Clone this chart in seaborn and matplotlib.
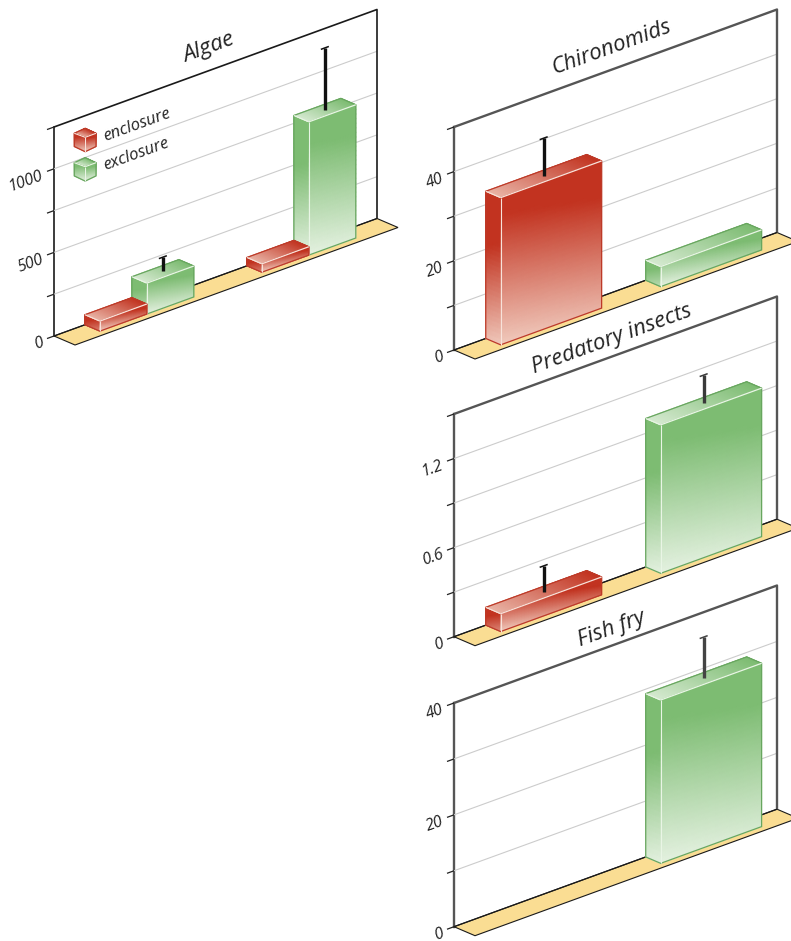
"""
Enclosure vs exclosure: oblique bar panels
"""

import matplotlib
matplotlib.use("Agg")
import matplotlib.pyplot as plt
import numpy as np
import pandas as pd
import seaborn as sns
from matplotlib.colors import LinearSegmentedColormap, to_hex
from matplotlib.patches import Polygon, Rectangle
from matplotlib.transforms import Affine2D, IdentityTransform

# --- data ---
TREATMENTS = ["enclosure", "exclosure"]
SLOTS = ["first", "second"]

ALGAE_MEAN = {"enclosure": [60, 50], "exclosure": [185, 797]}
ALGAE_ERR = {"enclosure": [0, 0], "exclosure": [85, 372]}
ALGAE_TICKS = [0, 500, 1000]
ALGAE_LABELS = ["0", "500", "1000"]
ALGAE_GRID = [250, 500, 750, 1000]

CHIRO_MEAN = {"enclosure": [33, np.nan], "exclosure": [np.nan, 4.5]}
CHIRO_ERR = {"enclosure": [8.5, 0], "exclosure": [0, 0]}
CHIRO_TICKS = [0, 20, 40]
CHIRO_LABELS = ["0", "20", "40"]
CHIRO_GRID = [10, 20, 30, 40]

PRED_MEAN = {"enclosure": [0.12, np.nan], "exclosure": [np.nan, 1.0]}
PRED_ERR = {"enclosure": [0.177, 0], "exclosure": [0, 0.19]}
PRED_TICKS = [0, 0.6, 1.2]
PRED_LABELS = ["0", "0.6", "1.2"]
PRED_GRID = [0.3, 0.6, 0.9, 1.2]

FRY_MEAN = {"enclosure": [np.nan, np.nan], "exclosure": [np.nan, 29.2]}
FRY_ERR = {"enclosure": [0, 0], "exclosure": [0, 7.4]}
FRY_TICKS = [0, 20, 40]
FRY_LABELS = ["0", "20", "40"]
FRY_GRID = [10, 20, 30]

# --- look ---
W, H = 791, 941
SLOPE = 0.3638
FLOOR = (21.0, 9.0)
BAR_DEPTH = 0.71
FONT = ["Open Sans", "DejaVu Sans"]

PALETTE = {"enclosure": "#c23320", "exclosure": "#7dbc72"}
CMAPS = {
    "enclosure": LinearSegmentedColormap.from_list("r", ["#c23320", "#f0c9bc"]),
    "exclosure": LinearSegmentedColormap.from_list("g", ["#7dbc72", "#e4f1e0"]),
}
EDGE = {"enclosure": "#bd3a28", "exclosure": "#68a65f"}
SHINE = {"enclosure": "#f8e2da", "exclosure": "#e9f5e5"}

sns.set_theme(style="white")
plt.rcParams["font.family"] = FONT

fig = plt.figure(figsize=(W / 100, H / 100), dpi=100)
PIXELS = IdentityTransform()


def px(x, y):
    return x, H - y


def make_proj(ax, left, bottom):
    """data x, y plus depth d -> display pixels on the sheared wall"""
    x0, y0 = px(left, bottom)

    def proj(x, y, d=0.0):
        p = ax.transData.transform(np.column_stack([np.ravel(x), np.ravel(y)]))
        dx = p[:, 0] - x0
        return p[:, 0] + d * FLOOR[0], p[:, 1] + dx * SLOPE - d * FLOOR[1]

    return proj


def stroke(ax, pts, color, lw, z, **kw):
    xs = [p[0] for p in pts]
    ys = [p[1] for p in pts]
    ax.plot(np.ravel(xs), np.ravel(ys), color=color, lw=lw, zorder=z,
            transform=PIXELS, clip_on=False, solid_capstyle=kw.pop("cap", "butt"), **kw)


def face(ax, corners, kind, cmap, z):
    """gradient filled quad, corners = upper-left, upper-right, lower-left, lower-right"""
    a, b, c, d = [np.array(p, dtype=float).ravel() for p in corners]
    u, v = np.meshgrid(np.linspace(0, 1, 30), np.linspace(0, 1, 30))
    X = (1 - v) * ((1 - u) * a[0] + u * b[0]) + v * ((1 - u) * c[0] + u * d[0])
    Y = (1 - v) * ((1 - u) * a[1] + u * b[1]) + v * ((1 - u) * c[1] + u * d[1])
    if kind == "top":
        T = 0.85 * (1 - u)
    else:
        g = -Y + 0.15 * X
        g = (g - g.min()) / max(g.max() - g.min(), 1e-6)
        start = 0.22 if kind == "front" else 0.35
        T = np.clip((g - start) / (1 - start), 0, 1)
        if kind == "side":
            # short boxes keep a darker side
            T = T * min(1.0, 0.45 + abs(a[1] - c[1]) / 150)
    ax.pcolormesh(X, Y, T, shading="gouraud", cmap=cmap, vmin=0, vmax=1,
                  transform=PIXELS, zorder=z, clip_on=False)


def draw_box(ax, proj, x0, x1, h, name, z):
    cmap = CMAPS[name]
    d = BAR_DEPTH
    # left side
    face(ax, [proj(x0, h), proj(x0, h, d), proj(x0, 0), proj(x0, 0, d)], "side", cmap, z)
    # top
    face(ax, [proj(x0, h), proj(x1, h), proj(x0, h, d), proj(x1, h, d)], "top", cmap, z)
    # front
    face(ax, [proj(x0, h, d), proj(x1, h, d), proj(x0, 0, d), proj(x1, 0, d)], "front", cmap, z)
    outline = [proj(x0, 0), proj(x0, h), proj(x1, h), proj(x1, h, d), proj(x1, 0, d), proj(x0, 0, d)]
    xy = np.array([[p[0][0], p[1][0]] for p in outline])
    ax.add_patch(Polygon(xy, closed=True, fc="none", ec=EDGE[name], lw=0.9,
                         transform=PIXELS, zorder=z + 0.1, clip_on=False))
    shine = SHINE[name]
    stroke(ax, [proj(x0, h), proj(x0, h, d)], shine, 0.8, z + 0.2)
    stroke(ax, [proj(x0, h, d), proj(x1, h, d)], shine, 0.9, z + 0.2)
    stroke(ax, [proj(x0, h, d), proj(x0, 0, d)], shine, 0.8, z + 0.2)


def panel(left, top, bottom, ymax, title, title_at, means, errs, ticks, labels, grid,
          xlim, width, dodge, wall_color, wall_lw, err_color):
    right = left + 323
    rect = [left / W, 1 - bottom / H, (right - left) / W, (bottom - top) / H]
    ax = fig.add_axes(rect)
    ax.patch.set_visible(False)

    df = pd.DataFrame([
        {"slot": s, "treatment": t, "value": means[t][i]}
        for t in TREATMENTS for i, s in enumerate(SLOTS)
    ]).dropna()
    sns.barplot(data=df, x="slot", y="value", hue="treatment", order=SLOTS,
                hue_order=TREATMENTS, palette=PALETTE, width=width, dodge=dodge,
                gap=0, errorbar=None, saturation=1, legend=False, ax=ax)
    ax.set_xlim(*xlim)
    ax.set_ylim(0, ymax)
    ax.set_autoscale_on(False)
    ax.set_xlabel("")
    ax.set_ylabel("")
    ax.set_xticks([])
    for side in ["top", "right", "bottom"]:
        ax.spines[side].set_visible(False)
    ax.spines["left"].set_color(wall_color)
    ax.spines["left"].set_linewidth(wall_lw)

    ax.set_yticks(ticks)
    ax.set_yticklabels(labels, style="italic", fontsize=11.5, color="#222222",
                       rotation=20, rotation_mode="anchor", ha="right", va="center")
    ax.tick_params(axis="y", length=0, pad=8)
    for lab in ax.get_yticklabels():
        lab.set_transform(lab.get_transform() + Affine2D().translate(0, -6.5))

    # the categorical x axis takes no plain floats, so the oblique faces go on a layer above it
    layer = fig.add_axes(rect, frameon=False)
    layer.set_axis_off()
    layer.set_autoscale_on(False)

    proj = make_proj(ax, left, bottom)
    xl, xr = xlim
    unit = 323 / (xr - xl)

    # floor
    corners = [proj(xl, 0), proj(xr, 0), proj(xr, 0, 1), proj(xl, 0, 1)]
    xy = np.array([[p[0][0], p[1][0]] for p in corners])
    layer.add_patch(Polygon(xy, closed=True, fc="#fadd93", ec="#1a1a1a", lw=0.8,
                            transform=PIXELS, zorder=1, clip_on=False))

    # grid and ticks
    for g in grid:
        stroke(layer, [proj(xl, g), proj(xr, g)], "#cccccc", 0.8, 0.9)
    for g in sorted(set(grid) | {0, ymax}):
        stroke(layer, [proj(xl - 7 / unit, g), proj(xl, g)], "#222222", 0.9, 1.4)

    # wall
    stroke(layer, [proj(xl, ymax), proj(xr, ymax), proj(xr, 0)], wall_color, wall_lw, 1.5)
    stroke(layer, [proj(xl, 0), proj(xr, 0)], "#1a1a1a", 0.9, 1.5)

    # bars from what seaborn laid out, exclosure first so enclosure sits on top
    colour_name = {to_hex(PALETTE[t]): t for t in TREATMENTS}
    bars = [b for b in ax.patches if isinstance(b, Rectangle)
            and np.isfinite(b.get_height()) and b.get_height() > 0]
    bars = sorted(bars, key=lambda b: colour_name[to_hex(b.get_facecolor())], reverse=True)
    for n, b in enumerate(bars):
        b.set_visible(False)
        name = colour_name[to_hex(b.get_facecolor())]
        x0, x1 = b.get_x(), b.get_x() + b.get_width()
        h = b.get_height()
        draw_box(layer, proj, x0, x1, h, name, 2 + n)
        err = errs[name][int(round((x0 + x1) / 2))]
        if err > 0:
            xc = (x0 + x1) / 2
            d = BAR_DEPTH / 2
            c = 4 / unit
            col = err_color.get(name, "#111111")
            stroke(layer, [proj(xc, h, d), proj(xc, h + err, d)], col, 2.4, 8)
            stroke(layer, [proj(xc - c, h + err, d), proj(xc + c, h + err, d)], col, 1.1, 8)

    layer.text(*px(*title_at), title, transform=PIXELS, style="italic", fontsize=16,
               color="#222222", rotation=20, rotation_mode="anchor",
               ha="center", va="center", zorder=9, clip_on=False)
    return layer


def legend_cube(ax, top, name):
    cx, l, r = 85.2, 74.3, 96.0
    cmap = CMAPS[name]
    P = {
        "t": px(cx, top), "ul": px(l, top + 5), "ur": px(r, top + 5), "c": px(cx, top + 9),
        "b": px(cx, top + 23.4), "ll": px(l, top + 18.2), "lr": px(r, top + 18.2),
    }
    face(ax, [P["ul"], P["t"], P["c"], P["ur"]], "top", cmap, 10)
    face(ax, [P["ul"], P["c"], P["ll"], P["b"]], "front", cmap, 10)
    face(ax, [P["c"], P["ur"], P["b"], P["lr"]], "front", cmap, 10)
    ring = np.array([P[k] for k in ["t", "ur", "lr", "b", "ll", "ul"]])
    ax.add_patch(Polygon(ring, closed=True, fc="none", ec=EDGE[name], lw=0.9,
                         transform=PIXELS, zorder=10.1, clip_on=False))
    for k in ["ul", "ur", "b"]:
        stroke(ax, [P["c"], P[k]], SHINE[name], 0.8, 10.2)


BLACK_ERR = {}
algae = panel(54, 127, 336, 1250, "Algae", (209, 48), ALGAE_MEAN, ALGAE_ERR,
              ALGAE_TICKS, ALGAE_LABELS, ALGAE_GRID, (-0.481, 1.513), 0.58, True,
              "#1a1a1a", 1.2, BLACK_ERR)
panel(454, 127, 350, 50, "Chironomids", (612, 47.5), CHIRO_MEAN, CHIRO_ERR,
      CHIRO_TICKS, CHIRO_LABELS, CHIRO_GRID, (-0.514, 1.505), 0.631, False,
      "#555555", 1.7, BLACK_ERR)
panel(454, 414, 636.7, 1.5, "Predatory insects", (612, 339), PRED_MEAN, PRED_ERR,
      PRED_TICKS, PRED_LABELS, PRED_GRID, (-0.514, 1.505), 0.631, False,
      "#555555", 1.7, {"exclosure": "#3a3a3a"})
panel(454, 703, 926.7, 40, "Fish fry", (612, 628.8), FRY_MEAN, FRY_ERR,
      FRY_TICKS, FRY_LABELS, FRY_GRID, (-0.514, 1.505), 0.631, False,
      "#555555", 1.7, {"exclosure": "#444444"})

legend_cube(algae, 128.3, "enclosure")
legend_cube(algae, 157.7, "exclosure")
for label, at in zip(TREATMENTS, [(104, 137.5), (104, 166.5)]):
    algae.text(*px(*at), label, transform=PIXELS, style="italic", fontsize=12,
               color="#222222", rotation=20, rotation_mode="anchor",
               ha="left", va="center", zorder=10, clip_on=False)

fig.savefig("out.png", dpi=100)
plt.close(fig)
print("saved out.png")
